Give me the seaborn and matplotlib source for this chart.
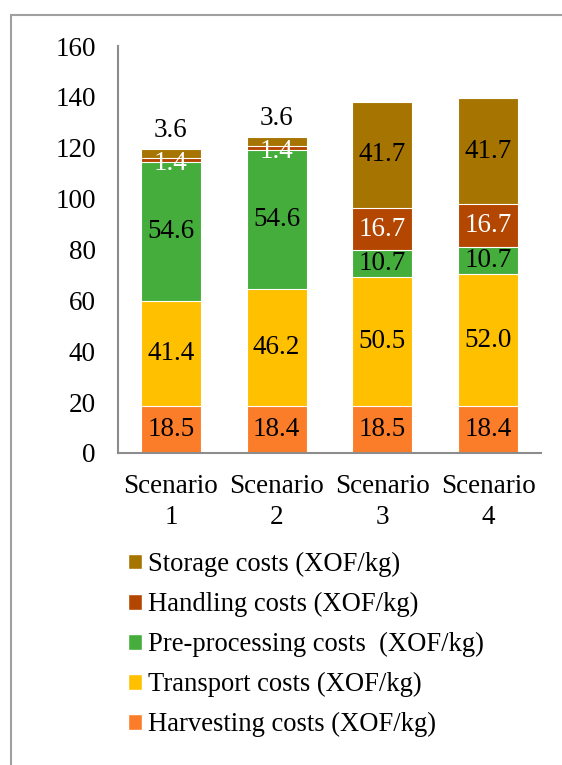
import numpy as np
import pandas as pd
import seaborn as sns
import matplotlib.pyplot as plt
from matplotlib.patches import Patch, Rectangle

scenarios = ["Scenario\n1", "Scenario\n2", "Scenario\n3", "Scenario\n4"]
harvesting = [18.5, 18.4, 18.5, 18.4]
transport = [41.4, 46.2, 50.5, 52.0]
preprocessing = [54.6, 54.6, 10.7, 10.7]
handling = [1.4, 1.4, 16.7, 16.7]
storage = [3.6, 3.6, 41.7, 41.7]

series_names = ["Harvesting costs (XOF/kg)", "Transport costs (XOF/kg)",
                "Pre-processing costs  (XOF/kg)", "Handling costs (XOF/kg)",
                "Storage costs (XOF/kg)"]
series_vals = [harvesting, transport, preprocessing, handling, storage]
colors = ["#FB7D2A", "#FFC000", "#44AD3C", "#B34600", "#A67400"]
label_colors = ["black", "black", "black", "white", "black"]

sns.set_theme(style="white")
plt.rcParams['font.family'] = ['Liberation Serif', 'DejaVu Serif']
plt.rcParams['text.color'] = 'black'
plt.rcParams['xtick.color'] = 'black'
plt.rcParams['ytick.color'] = 'black'

fig = plt.figure(figsize=(5.62, 7.65), dpi=100)
ax = fig.add_axes([118 / 562, 1 - 453 / 765, 423 / 562, 407 / 765])

# cumulative totals, drawn from the top layer down so they look stacked
cum = np.cumsum(np.array(series_vals), axis=0)
for i in range(len(series_vals) - 1, -1, -1):
    df = pd.DataFrame({"scenario": scenarios, "value": cum[i]})
    sns.barplot(data=df, x="scenario", y="value", color=colors[i], width=0.567,
                saturation=1, edgecolor="white", linewidth=0.8, ax=ax)

# segment labels
for i, vals in enumerate(series_vals):
    for j, v in enumerate(vals):
        bottom = cum[i][j] - v
        mid = bottom + v / 2
        col = label_colors[i]
        if i == 4 and v < 5:
            mid = cum[i][j] + 7.3
            col = "black"
        elif i == 3 and v < 5:
            mid = mid - 1.2
            col = "white"
        ax.text(j, mid, "%.1f" % v, ha="center", va="center", fontsize=19.5, color=col)

ax.set_ylim(0, 160)
ax.set_yticks(range(0, 161, 20))
ax.set_xlim(-0.5, 3.5)
ax.set_xlabel("")
ax.set_ylabel("")
ax.tick_params(axis="y", length=0, pad=16, labelsize=19.5, labelcolor="black")
ax.tick_params(axis="x", length=0, pad=15, labelsize=19.5, labelcolor="black")
for lbl in ax.get_xticklabels():
    lbl.set_linespacing(1.3)
sns.despine(ax=ax)
ax.spines["left"].set_color("#8c8c8c")
ax.spines["bottom"].set_color("#8c8c8c")
ax.spines["left"].set_linewidth(1.5)
ax.spines["bottom"].set_linewidth(1.5)

handles = [Patch(facecolor=colors[i], label=series_names[i]) for i in range(4, -1, -1)]
fig.legend(handles=handles, loc="upper left", bbox_to_anchor=(128 / 562, 1 - 552 / 765),
           frameon=False, fontsize=19.2, handlelength=0.52, handleheight=0.52,
           handletextpad=0.22, labelspacing=0.56, borderpad=0, borderaxespad=0,
           labelcolor="black")

fig.patches.append(Rectangle((11 / 562, -0.05), 1.1, 1 - 15 / 765 + 0.05,
                             transform=fig.transFigure, fill=False,
                             edgecolor="#a0a0a0", linewidth=1.5))

fig.savefig("out.png", dpi=100)
